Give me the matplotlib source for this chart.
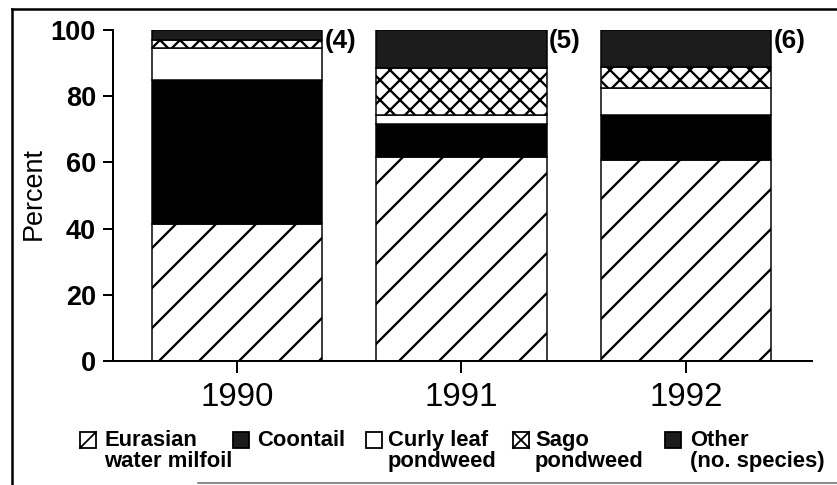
import matplotlib
matplotlib.use('Agg')
import matplotlib.pyplot as plt
from matplotlib.patches import Rectangle
from matplotlib.lines import Line2D
from matplotlib.transforms import Affine2D
import numpy as np

# ---- data ----
years = ['1990', '1991', '1992']
eurasian = [41.4, 61.6, 60.7]
coontail = [43.5, 10.0, 13.6]
curly_leaf = [9.6, 2.7, 8.2]
sago = [2.6, 14.2, 6.3]
other = [2.9, 11.5, 11.2]
n_species = ['(4)', '(5)', '(6)']
legend_labels = ['Eurasian\nwater milfoil', 'Coontail', 'Curly leaf\npondweed',
                 'Sago\npondweed', 'Other\n(no. species)']
y_ticks = [0, 20, 40, 60, 80, 100]

# ---- figure setup ----
W, H = 837, 485
DPI = 240          # large dpi -> sparse hatch lines like the original


def pt(px):
    return px * 72.0 / DPI


plt.rcParams['font.family'] = ['Liberation Sans', 'DejaVu Sans']
plt.rcParams['hatch.linewidth'] = pt(2.3)
plt.rcParams['hatch.color'] = 'black'

fig = plt.figure(figsize=(W / DPI, H / DPI), dpi=DPI)
fig.patch.set_facecolor('white')
ax = fig.add_axes([113 / W, 1 - 361 / H, (812 - 113) / W, (361 - 30) / H])

x = np.arange(len(years))
series = [eurasian, coontail, curly_leaf, sago, other]
styles = [dict(facecolor='white', hatch='//'),
          dict(facecolor='black'),
          dict(facecolor='white'),
          dict(facecolor='white', hatch='xxxx'),
          dict(facecolor='#1c1c1c')]
bottom = np.zeros(len(years))
for vals, st in zip(series, styles):
    ax.bar(x, vals, width=0.76, bottom=bottom, edgecolor='black',
           linewidth=pt(1.5), **st)
    bottom = bottom + np.array(vals)

for xi, top, lab in zip(x, bottom, n_species):
    ax.annotate(lab, xy=(xi + 0.38, top), xytext=(pt(2), pt(1)),
                textcoords='offset points', ha='left', va='top',
                fontsize=pt(26), fontweight='bold')

ax.set_xlim(-0.552, 2.561)
ax.set_ylim(0, 100)
ax.set_xticks(x)
ax.set_xticklabels(years)
ax.set_yticks(y_ticks)
for s in ['top', 'right']:
    ax.spines[s].set_visible(False)
for s in ['left', 'bottom']:
    ax.spines[s].set_linewidth(pt(2))
ax.tick_params(axis='y', length=pt(10), width=pt(2), pad=pt(7),
               labelsize=pt(27))
ax.tick_params(axis='x', length=pt(12), width=pt(2), pad=pt(9),
               labelsize=pt(33))
for lab in ax.get_yticklabels():
    lab.set_fontweight('bold')

fig.text(34 / W, 1 - 193 / H, 'Percent', rotation=90, ha='center',
         va='center', fontsize=pt(27))

# ---- legend (drawn in pixel coordinates) ----
pix = Affine2D().scale(1.0 / W, -1.0 / H).translate(0, 1) + fig.transFigure
box_x = [80, 233, 366, 513, 665]
text_x = [104, 257, 388, 535, 690]
by, bs = 432, 16
for i, (bx, tx, lab) in enumerate(zip(box_x, text_x, legend_labels)):
    fc = ['white', '#1c1c1c', 'white', 'white', '#1c1c1c'][i]
    fig.add_artist(Rectangle((bx, by), bs, bs, transform=pix, facecolor=fc,
                             edgecolor='black', linewidth=pt(1.8)))
    if i == 0:
        fig.add_artist(Line2D([bx, bx + bs], [by + bs, by], transform=pix,
                              color='black', linewidth=pt(1.8)))
    if i == 3:
        fig.add_artist(Line2D([bx, bx + bs], [by + bs, by], transform=pix,
                              color='black', linewidth=pt(1.8)))
        fig.add_artist(Line2D([bx, bx + bs], [by, by + bs], transform=pix,
                              color='black', linewidth=pt(1.8)))
    fig.text(tx / W, 1 - (by - 2) / H, lab, ha='left', va='top',
             fontsize=pt(22), fontweight='bold', linespacing=1.02)

# ---- outer frame of the scanned figure ----
fig.add_artist(Line2D([12, W], [9, 9], transform=pix, color='black',
                      linewidth=pt(2.5)))
fig.add_artist(Line2D([12, 12], [9, 485], transform=pix, color='black',
                      linewidth=pt(2.5)))
fig.add_artist(Line2D([198, W], [483, 483], transform=pix, color='#666666',
                      linewidth=pt(1.5)))

fig.savefig('out.png', dpi=DPI, facecolor='white')
